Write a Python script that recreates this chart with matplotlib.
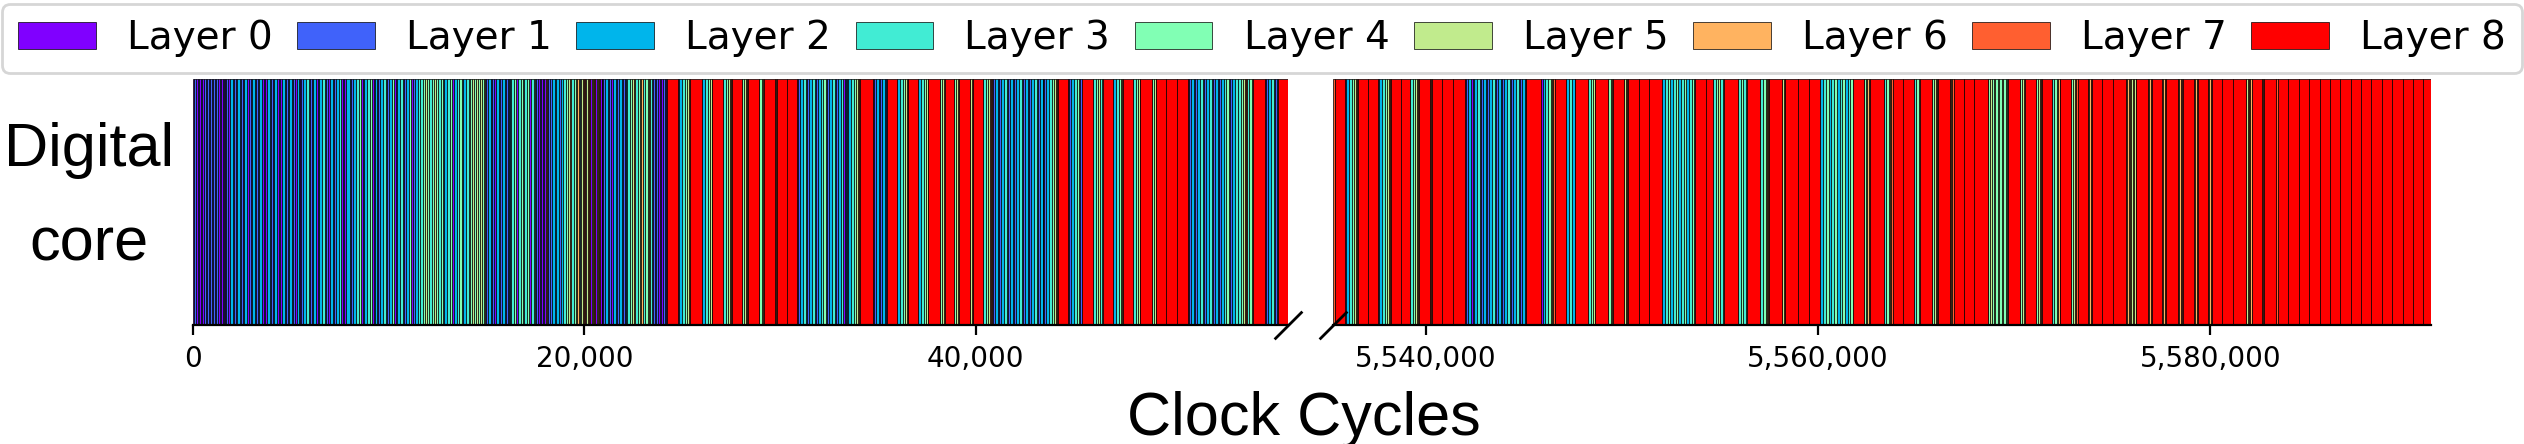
import numpy as np
import matplotlib
matplotlib.use('Agg')
from matplotlib import pyplot as plt
from matplotlib.patches import Patch
from matplotlib.ticker import MultipleLocator, FuncFormatter

layer_names = ['Layer %d' % i for i in range(9)]
# usual length of one execution of each layer (clock cycles)
layer_cycles = [70, 90, 150, 140, 120, 80, 60, 50, 530]

# (start cycle, layers run back to back from there)
left_runs = [
    (0, '0101010101010101010101'),
    (1635, '01020102010201020102010201020102010201020102'),
    (5467, '012301020123010201230102'),
    (8021, '012340123401234'),
    (9400, '01230124012301240123'),
    (11597, '345434543454'),
    (12772, '023402340234'),
    (14152, '45454545'),
    (14918, '0120102012010201'),
    (16196, '034034034034'),
    (17473, '01010106012'),
    (18239, '121212'),
    (18903, '345634563456'),
    (19772, '05670567056705670567'),
    (20896, '0120102012010201'),
    (22173, '3456345634563456'),
    (23450, '0101010101'),
    (24197, '8'),
    (24779, '0234567'),
    (25392, '8'),
    (26005, '234567'),
    (26516, '8'),
    (27078, '34567'),
    (27538, '8'),
    (28048, '4567'),
    (28355, '8'),
    (28942, '4567'),
    (29172, '8'),
    (29734, '67'),
    (29837, '88'),
    (30858, '0123012301234012301230123'),
    (33413, '0234567'),
    (34077, '8'),
    (34741, '012012012'),
    (35456, '8'),
    (35967, '234567'),
    (36529, '8'),
    (37040, '234567'),
    (37551, '8'),
    (38164, '4567'),
    (38420, '8'),
    (38880, '4567'),
    (39135, '8'),
    (39697, '567'),
    (39850, '8'),
    (40361, '34567'),
    (40821, '0120123012012301201230123'),
    (43427, '01234567'),
    (44193, '8'),
    (44704, '0123401234'),
    (45419, '8'),
    (45981, '34534'),
    (46492, '8'),
    (47003, '234567'),
    (47514, '8'),
    (48025, '34567'),
    (48382, '8'),
    (48995, '4567'),
    (49200, '888'),
    (50834, '012012301230120123401230'),
    (53389, '34567345'),
    (54155, '8'),
    (54768, '0123012'),
    (55432, '8'),
]
left_end = 55950

right_runs = [
    (5535250, '7'),
    (5535354, '8'),
    (5535864, '0234567'),
    (5536528, '88'),
    (5537549, '0234567'),
    (5538213, '88'),
    (5539183, '34567'),
    (5539643, '8'),
    (5540204, '67'),
    (5540306, '888'),
    (5541991, '01201230120123012012301230120123'),
    (5545106, '8'),
    (5545872, '0234567'),
    (5546587, '8'),
    (5547149, '2323'),
    (5547608, '8'),
    (5548272, '34567'),
    (5548629, '8'),
    (5549293, '456'),
    (5549548, '8'),
    (5550110, '567'),
    (5550314, '888'),
    (5552050, '234234234234234'),
    (5553735, '88'),
    (5554654, '34534'),
    (5555216, '8'),
    (5555931, '3434'),
    (5556391, '8'),
    (5557055, '34567'),
    (5557514, '8'),
    (5558178, '567'),
    (5558331, '8'),
    (5558995, '88'),
    (5560118, '2342342342342'),
    (5561752, '8'),
    (5562314, '4567'),
    (5562620, '8'),
    (5563335, '34567'),
    (5563794, '88'),
    (5564866, '345'),
    (5565172, '8'),
    (5565785, '4567'),
    (5566091, '8'),
    (5566704, '567'),
    (5566908, '888'),
    (5568644, '454545454545'),
    (5569665, '8'),
    (5570278, '456'),
    (5570533, '8'),
    (5571095, '4567'),
    (5571401, '8'),
    (5571912, '34567'),
    (5572320, '8'),
    (5572882, '4567'),
    (5573239, '8'),
    (5573750, '567'),
    (5573954, '888'),
    (5575690, '56565656'),
    (5576201, '8'),
    (5576813, '567'),
    (5577018, '8'),
    (5577528, '567'),
    (5577733, '8'),
    (5578346, '5676'),
    (5578601, '8'),
    (5579163, '567'),
    (5579367, '8'),
    (5579878, '567'),
    (5580082, '888'),
    (5581818, '5676'),
    (5582124, '8'),
    (5582635, '67'),
    (5582737, '8'),
    (5583350, '7'),
    (5583452, '888888888888888'),
]
right_end = 5591250


def segments(runs, end):
    out = []
    starts = [r[0] for r in runs] + [end]
    for i, (t, seq) in enumerate(runs):
        stop = starts[i + 1]
        for ch in seq:
            if t >= stop:
                break
            d = layer_cycles[int(ch)]
            out.append([t, min(d, stop - t), int(ch)])
            t += d
        if t < stop:
            out[-1][1] = stop - out[-1][0]
    return out


colors = plt.cm.rainbow(np.linspace(0, 1, 9))

fig = plt.figure(figsize=(12.62, 2.22), dpi=200)
ax1 = fig.add_axes([0.0765, 0.2669, 0.4338, 0.5552])
ax2 = fig.add_axes([0.5281, 0.2669, 0.4350, 0.5552])

for ax, runs, end in ((ax1, left_runs, left_end), (ax2, right_runs, right_end)):
    segs = segments(runs, end)
    for layer in range(9):
        xr = [(s[0], s[1]) for s in segs if s[2] == layer]
        if xr:
            ax.broken_barh(xr, (0, 1), facecolors=colors[layer],
                           edgecolor='black', linewidth=0.25)
    ax.set_ylim(0, 1)
    ax.set_yticks([])
    for side in ('top', 'left', 'right'):
        ax.spines[side].set_visible(False)
    ax.xaxis.set_major_locator(MultipleLocator(20000))
    ax.xaxis.set_major_formatter(FuncFormatter(lambda v, p: '{:,.0f}'.format(v)))
    ax.tick_params(axis='x', labelsize=10)

ax1.set_xlim(0, left_end)
ax2.set_xlim(right_runs[0][0], right_end)

# broken axis marks
kw = dict(marker=[(-1, -1), (1, 1)], markersize=10, linestyle='none',
          color='k', mec='k', mew=1, clip_on=False)
ax1.plot([1], [0], transform=ax1.transAxes, **kw)
ax2.plot([0], [0], transform=ax2.transAxes, **kw)

handles = [Patch(facecolor=colors[i], edgecolor='black', linewidth=0.25,
                 label=layer_names[i]) for i in range(9)]
fig.legend(handles=handles, loc='upper center', bbox_to_anchor=(0.5, 1.0),
           ncol=9, fontsize=14, columnspacing=0.63, borderaxespad=0.1)

ax1.set_ylabel('Digital\ncore', rotation=0, fontsize=22, family='Liberation Sans',
               ha='right', va='center', multialignment='center', linespacing=1.85)
ax1.yaxis.set_label_coords(-0.0174, 0.52)
fig.text(0.5166, 0.02, 'Clock Cycles', ha='center', va='baseline',
         fontsize=22, family='Liberation Sans')

fig.savefig('out.png', dpi=200)
